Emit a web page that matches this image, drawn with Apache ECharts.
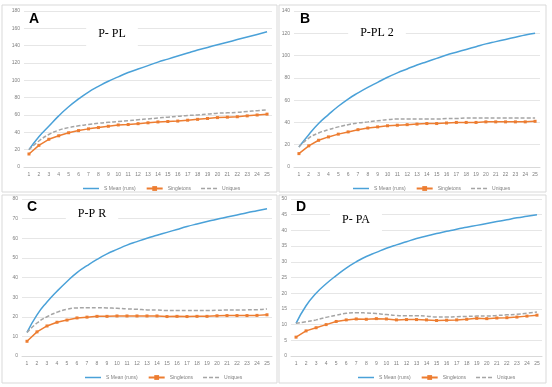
<!DOCTYPE html>
<html style="height: 100%">
<head>
    <meta charset="utf-8">
    <script src="https://cdn.jsdelivr.net/npm/echarts@6/dist/echarts.min.js"></script>
</head>
<body style="margin:0; height: 387px; width: 552px; background-color: #fff;">
    <div id="container" style="height: 387px; width: 552px;"></div>
    <script type="text/javascript">
        // runs 1..25
        var runs = ['1', '2', '3', '4', '5', '6', '7', '8', '9', '10', '11', '12', '13',
            '14', '15', '16', '17', '18', '19', '20', '21', '22', '23', '24', '25'];
        var seriesNames = ['S Mean (runs)', 'Singletons', 'Uniques'];
        var panelLetters = ['A', 'B', 'C', 'D'];
        var panelTitles = ['P- PL', 'P-PL 2', 'P-P R', 'P- PA'];

        // A: P-PL
        var meanA = [20, 35, 47, 59, 69.5, 78.5, 86.5, 93, 99, 104, 109, 113, 117, 121, 124.5, 128, 131.5, 135, 138, 141, 144, 147, 150, 153, 156];
        var singA = [15, 25, 32, 36, 39.5, 42, 44, 45.5, 47, 48.5, 49, 50, 51, 52, 52.5, 53, 54, 55, 56, 57, 57.5, 58, 59, 60, 61];
        var uniqA = [20, 30, 37.5, 42.5, 45.5, 47.5, 49, 50.5, 51.5, 52.5, 53.5, 54.5, 55.5, 56.5, 57.5, 58.5, 59.5, 60, 61, 62, 62.5, 63, 64, 65, 66];
        // B: P-PL2
        var meanB = [18, 29, 39, 47, 54.5, 61, 66.5, 71.5, 76, 80.5, 84.5, 88, 91.5, 94.5, 97.5, 100.5, 103, 105.5, 108, 110.5, 112.5, 114.5, 116.5, 118.5, 120];
        var singB = [12, 19, 24, 27, 29.5, 31.5, 33.5, 35, 36, 37, 37.5, 38, 38.5, 39, 39, 39.5, 40, 40, 40, 40.5, 40.5, 40.5, 40.5, 40.5, 41];
        var uniqB = [18, 26, 30.5, 33.5, 36, 38, 39.5, 40.5, 41.5, 42.5, 43, 43, 43, 43, 43, 43.5, 43.5, 44, 44, 44, 44, 44, 44, 44, 44];
        // C: P-PR
        var meanC = [12, 21, 27.5, 33, 38, 42.5, 46, 49.2, 52, 54.3, 56.5, 58.3, 60, 61.5, 63, 64.5, 66, 67.3, 68.5, 69.7, 70.8, 71.9, 73, 74, 75];
        var singC = [7.5, 12.3, 15.3, 17.2, 18.3, 19.4, 19.8, 20.2, 20.2, 20.4, 20.4, 20.4, 20.4, 20.4, 20.1, 20.2, 20.1, 20.2, 20.2, 20.5, 20.6, 20.6, 20.6, 20.7, 21];
        var uniqC = [12, 16.8, 20, 22.3, 23.8, 24.5, 24.6, 24.6, 24.5, 24.3, 24, 23.8, 23.5, 23.4, 23.2, 23.2, 23.2, 23.2, 23.2, 23.3, 23.4, 23.4, 23.5, 23.6, 24];
        // D: P-PA
        var meanD = [10.4, 16, 20, 23, 25.6, 28, 30, 31.7, 33, 34.3, 35.4, 36.4, 37.4, 38.2, 39, 39.7, 40.4, 41, 41.6, 42.2, 42.8, 43.4, 44, 44.5, 45];
        var singD = [6, 8, 9, 10, 11, 11.5, 11.8, 11.7, 11.9, 11.8, 11.5, 11.6, 11.6, 11.5, 11.3, 11.4, 11.5, 11.7, 12, 11.9, 12.1, 12.2, 12.4, 12.7, 13];
        var uniqD = [10.4, 10.9, 11.5, 12.3, 13, 13.6, 13.8, 13.7, 13.5, 13.2, 12.9, 12.8, 12.8, 12.7, 12.4, 12.4, 12.5, 12.6, 12.7, 12.7, 12.9, 13.1, 13.3, 13.6, 14];

        var yMax = [180, 140, 80, 50];
        var yStep = [20, 20, 10, 5];

        var panelData = [
            [meanA, singA, uniqA],
            [meanB, singB, uniqB],
            [meanC, singC, uniqC],
            [meanD, singD, uniqD]
        ];

        var boxes = [
            { x: 2, y: 5, w: 275, h: 187 },
            { x: 279, y: 5, w: 267, h: 187 },
            { x: 2, y: 195, w: 275, h: 188 },
            { x: 279, y: 195, w: 267, h: 188 }
        ];
        var grids = [
            { left: 24, top: 11, width: 248, height: 156 },
            { left: 294, top: 11, width: 246, height: 156 },
            { left: 22, top: 199, width: 250, height: 157 },
            { left: 291, top: 199, width: 251, height: 157 }
        ];
        var legendPos = [
            { left: 78, top: 181 },
            { left: 348, top: 181 },
            { left: 80, top: 370 },
            { left: 353, top: 370 }
        ];
        var letterPos = [[29, 12], [300, 12], [27, 200], [296, 200]];
        var titlePos = [[112, 34], [377, 33], [92, 214], [356, 220]];

        var colors = ['#4aa1d8', '#ed7d31', '#a5a5a5'];
        // legend icons: plain line for the mean, dashes for uniques
        var lineIcon = 'path://M0,0h16v1.5h-16z';
        var dashIcon = 'path://M0,0h4v1.5h-4zM6,0h4v1.5h-4zM12,0h4v1.5h-4z';

        var dom = document.getElementById("container");
        var myChart = echarts.init(dom);

        var option = {
            animation: false,
            color: colors,
            grid: [],
            xAxis: [],
            yAxis: [],
            legend: [],
            series: [],
            graphic: []
        };

        for (var i = 0; i < 4; i++) {
            option.grid.push(grids[i]);
            option.xAxis.push({
                type: 'category',
                gridIndex: i,
                data: runs,
                boundaryGap: true,
                axisLine: { lineStyle: { color: '#d9d9d9' } },
                axisTick: { show: false },
                axisLabel: { fontSize: 5, color: '#7f7f7f', margin: 5, interval: 0, fontFamily: 'Liberation Sans' }
            });
            option.yAxis.push({
                type: 'value',
                gridIndex: i,
                min: 0,
                max: yMax[i],
                interval: yStep[i],
                axisLine: { show: false },
                axisTick: { show: false },
                axisLabel: { fontSize: 5, color: '#7f7f7f', margin: 4, fontFamily: 'Liberation Sans' },
                splitLine: { lineStyle: { color: '#e6e6e6', width: 1 } }
            });
            option.legend.push({
                left: legendPos[i].left,
                top: legendPos[i].top,
                itemWidth: 16,
                itemHeight: 6,
                itemGap: 10,
                textStyle: { fontSize: 5, color: '#7f7f7f', fontFamily: 'Liberation Sans' },
                data: [
                    { name: seriesNames[0], icon: lineIcon },
                    { name: seriesNames[1] },
                    { name: seriesNames[2], icon: dashIcon }
                ]
            });
            option.series.push({
                name: seriesNames[0],
                type: 'line',
                xAxisIndex: i,
                yAxisIndex: i,
                data: panelData[i][0],
                smooth: true,
                symbol: 'none',
                lineStyle: { width: 1.5, color: colors[0] },
                itemStyle: { color: colors[0] }
            });
            option.series.push({
                name: seriesNames[1],
                type: 'line',
                xAxisIndex: i,
                yAxisIndex: i,
                data: panelData[i][1],
                symbol: 'rect',
                symbolSize: 3,
                lineStyle: { width: 1.5, color: colors[1] },
                itemStyle: { color: colors[1] }
            });
            option.series.push({
                name: seriesNames[2],
                type: 'line',
                xAxisIndex: i,
                yAxisIndex: i,
                data: panelData[i][2],
                smooth: true,
                symbol: 'none',
                lineStyle: { width: 1.5, color: colors[2], type: [4, 2] },
                itemStyle: { color: colors[2] }
            });

            var b = boxes[i];
            option.graphic.push({
                type: 'rect',
                shape: { x: b.x, y: b.y, width: b.w, height: b.h },
                style: { fill: 'none', stroke: '#d9d9d9', lineWidth: 1 },
                z: 0
            });
            option.graphic.push({
                type: 'text',
                x: letterPos[i][0],
                y: letterPos[i][1],
                style: {
                    text: panelLetters[i],
                    font: 'bold 14px "Liberation Sans"',
                    fill: '#000'
                },
                z: 100
            });
            option.graphic.push({
                type: 'text',
                x: titlePos[i][0],
                y: titlePos[i][1],
                style: {
                    text: panelTitles[i],
                    font: '12px "Liberation Serif"',
                    fill: '#000',
                    align: 'center',
                    verticalAlign: 'middle',
                    backgroundColor: '#fff',
                    padding: [7, 12]
                },
                z: 100
            });
        }

        myChart.setOption(option);
    </script>
</body>
</html>
